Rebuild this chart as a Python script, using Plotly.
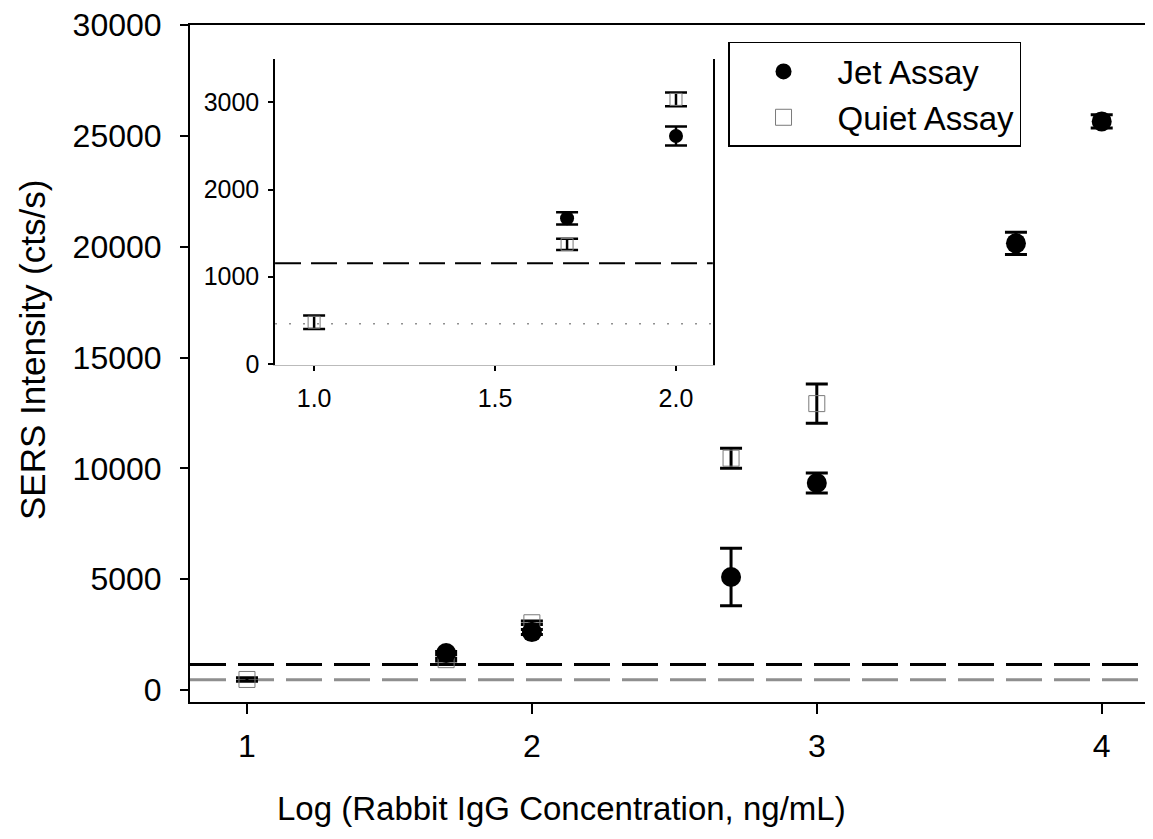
import plotly.graph_objects as go

# log10 of Rabbit IgG concentration (ng/mL)
jet_x = [1.699, 2.0, 2.699, 3.0, 3.699, 4.0]
jet_y = [1670, 2615, 5100, 9340, 20150, 25650]
jet_err = [70, 110, 1300, 450, 500, 300]

quiet_x = [1.0, 1.699, 2.0, 2.699, 3.0]
quiet_y = [477, 1370, 3035, 10460, 12920]
quiet_err = [77, 65, 80, 450, 880]

# detection limits (horizontal reference lines)
limit_dashed = 1155
limit_dotted = 460

main_x_range = [0.8, 4.18]
inset_x_range = [0.892, 2.102]

FONT = "Liberation Sans, Arial, Helvetica, sans-serif"

fig = go.Figure()

def add_series(xa, ya, big):
    sel_q = [i for i, x in enumerate(quiet_x) if x <= (4.5 if big else 2.1)]
    sel_j = [i for i, x in enumerate(jet_x) if x <= (4.5 if big else 2.1)]
    cap = 11
    # reference lines
    xr = main_x_range if big else inset_x_range
    fig.add_trace(go.Scatter(
        x=xr, y=[limit_dotted] * 2, mode="lines", xaxis=xa, yaxis=ya,
        line=dict(color="#8f8f8f", width=3 if big else 1.5,
                  dash="36px,12px" if big else "2px,12px"),
        showlegend=False, hoverinfo="skip"))
    fig.add_trace(go.Scatter(
        x=xr, y=[limit_dashed] * 2, mode="lines", xaxis=xa, yaxis=ya,
        line=dict(color="black", width=3 if big else 2,
                  dash="36px,12px" if big else "26px,10px"),
        showlegend=False, hoverinfo="skip"))
    fig.add_trace(go.Scatter(
        x=[quiet_x[i] for i in sel_q], y=[quiet_y[i] for i in sel_q],
        mode="markers", xaxis=xa, yaxis=ya, name="Quiet Assay",
        showlegend=big, legendrank=2,
        marker=dict(symbol="square-open", size=16 if big else 12,
                    color="#7a7a7a", line=dict(width=1, color="#7a7a7a")),
        error_y=dict(type="data", array=[quiet_err[i] for i in sel_q],
                     color="black", thickness=3 if big else 2.5, width=cap)))
    fig.add_trace(go.Scatter(
        x=[jet_x[i] for i in sel_j], y=[jet_y[i] for i in sel_j],
        mode="markers", xaxis=xa, yaxis=ya, name="Jet Assay",
        showlegend=big, legendrank=1,
        marker=dict(symbol="circle", size=20 if big else 14, color="black"),
        error_y=dict(type="data", array=[jet_err[i] for i in sel_j],
                     color="black", thickness=3 if big else 2.5, width=cap)))

add_series("x", "y", True)
add_series("x2", "y2", False)

# page body adds an 8px offset, margins compensate for it
fig.update_layout(
    width=1153, height=839,
    margin=dict(l=182, r=8, t=17, b=145),
    paper_bgcolor="white", plot_bgcolor="white",
    font=dict(family=FONT, color="black", size=30),
    legend=dict(x=0.5587, y=0.975, xanchor="left", yanchor="top",
                bordercolor="black", borderwidth=1.5, bgcolor="white",
                font=dict(size=33), itemwidth=98, tracegroupgap=0),
    xaxis=dict(range=main_x_range, tickvals=[1, 2, 3, 4], showgrid=False,
               zeroline=False, showline=True, linecolor="black", linewidth=2,
               mirror=True, ticks="outside", ticklen=10, tickwidth=2,
               tickcolor="black", tickfont=dict(size=32), automargin=False,
               ticklabelstandoff=5, ticklabeloverflow="allow"),
    yaxis=dict(range=[-540, 30000], tickvals=[0, 5000, 10000, 15000, 20000, 25000, 30000],
               tickformat="d", showgrid=False, zeroline=False, showline=True,
               linecolor="black", linewidth=2, ticks="outside", ticklen=8,
               tickwidth=2, tickcolor="black", tickfont=dict(size=32),
               automargin=False, ticklabelstandoff=12, ticklabeloverflow="allow"),
    xaxis2=dict(domain=[0.0883, 0.543], anchor="y2", range=inset_x_range,
                tickvals=[1.0, 1.5, 2.0], tickformat=".1f", showgrid=False,
                zeroline=False, showline=True, linecolor="#bbbbbb", linewidth=1,
                ticks="outside", ticklen=5, tickwidth=1.5, tickcolor="black",
                tickfont=dict(size=25), ticklabelstandoff=6),
    yaxis2=dict(domain=[0.498, 0.950], anchor="x2", range=[-12, 3500],
                tickvals=[0, 1000, 2000, 3000], tickformat="d", showgrid=False,
                zeroline=False, showline=True, linecolor="black", linewidth=1.5,
                mirror=True, ticks="outside", ticklen=5, tickwidth=1.5,
                tickcolor="black", tickfont=dict(size=25), ticklabelstandoff=4),
)

# axis titles as paper annotations (the original sets them off-centre)
fig.add_annotation(text="SERS Intensity (cts/s)", textangle=-90,
                   xref="paper", yref="paper", x=-0.163, y=0.52,
                   xanchor="center", yanchor="middle", showarrow=False,
                   font=dict(size=35))
fig.add_annotation(text="Log (Rabbit IgG Concentration, ng/mL)",
                   xref="paper", yref="paper", x=0.386, y=-0.157,
                   xanchor="center", yanchor="middle", showarrow=False,
                   font=dict(size=33))

fig.write_html("out.html")
